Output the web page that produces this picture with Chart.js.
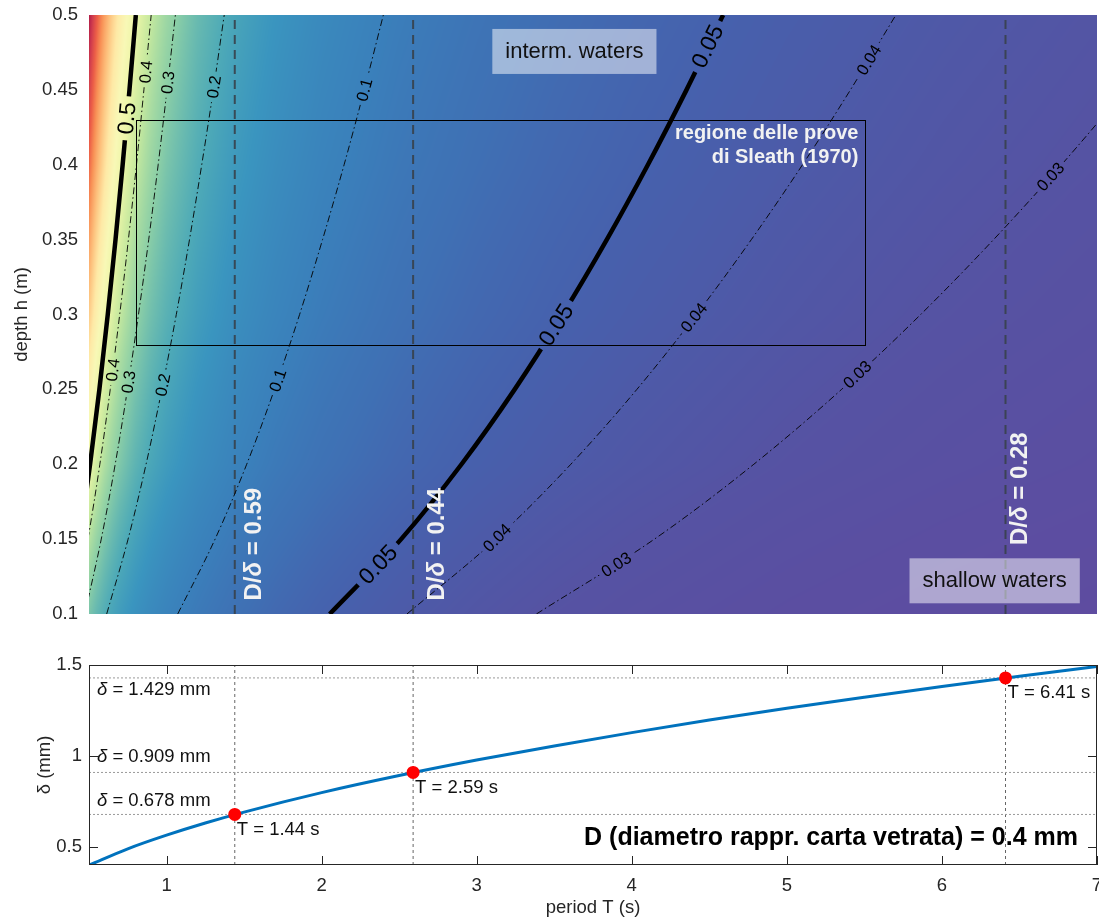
<!DOCTYPE html>
<html>
<head>
<meta charset="utf-8">
<script src="https://cdn.jsdelivr.net/npm/chart.js@4.4.1/dist/chart.umd.min.js"></script>
<style>
  html, body { margin: 0; padding: 0; background: #fff; }
  #wrap { position: relative; width: 1099px; height: 919px; }
  #depthChart { position: absolute; left: 0; top: 0; }
  #deltaChart { position: absolute; left: 0; top: 625px; }
</style>
</head>
<body>
<div id="wrap">
  <canvas id="depthChart" width="1099" height="625"></canvas>
  <canvas id="deltaChart" width="1099" height="294"></canvas>
</div>
<script>
// Relative depth h/L on a period x depth grid
const gridPeriods = [0.5, 0.55, 0.6, 0.65, 0.7, 0.8, 0.9, 1.0, 1.2, 1.4, 1.7, 2.0, 2.5, 3.0, 3.5, 4.0, 5.0, 6.0, 7.0];
const gridDepths = [0.1, 0.2, 0.3, 0.4, 0.5];
const ratioAt01 = [0.273, 0.235, 0.207, 0.185, 0.167, 0.141, 0.122, 0.108, 0.0883, 0.0747, 0.0608, 0.0513, 0.0408, 0.0339, 0.0290, 0.0254, 0.0203, 0.0169, 0.0144];
const ratioAt02 = [0.514, 0.428, 0.363, 0.315, 0.278, 0.225, 0.190, 0.165, 0.131, 0.110, 0.0881, 0.0739, 0.0584, 0.0483, 0.0413, 0.0360, 0.0287, 0.0239, 0.0205];
const ratioAt03 = [0.769, 0.636, 0.535, 0.458, 0.398, 0.312, 0.257, 0.219, 0.170, 0.139, 0.111, 0.0921, 0.0723, 0.0596, 0.0508, 0.0443, 0.0353, 0.0293, 0.0251];
const ratioAt04 = [1.025, 0.847, 0.712, 0.607, 0.524, 0.405, 0.327, 0.273, 0.207, 0.167, 0.131, 0.108, 0.0843, 0.0694, 0.0590, 0.0513, 0.0408, 0.0339, 0.0290];
const ratioAt05 = [1.281, 1.059, 0.890, 0.758, 0.654, 0.502, 0.401, 0.331, 0.244, 0.195, 0.150, 0.123, 0.0953, 0.0782, 0.0663, 0.0576, 0.0458, 0.0380, 0.0325];
const ratioRows = [ratioAt01, ratioAt02, ratioAt03, ratioAt04, ratioAt05];

// h/L contours: period (s) reached at each depth
const contourDepths = [0.1, 0.15, 0.2, 0.25, 0.3, 0.35, 0.4, 0.45, 0.5];
const contour050 = [0.359, 0.439, 0.507, 0.567, 0.621, 0.671, 0.717, 0.761, 0.802];
const contour040 = [0.403, 0.493, 0.570, 0.637, 0.698, 0.754, 0.806, 0.854, 0.901];
const contour030 = [0.473, 0.579, 0.669, 0.748, 0.819, 0.885, 0.946, 1.003, 1.057];
const contour020 = [0.614, 0.752, 0.868, 0.970, 1.063, 1.148, 1.227, 1.302, 1.372];
const contour010 = [1.072, 1.313, 1.517, 1.696, 1.858, 2.006, 2.145, 2.275, 2.398];
const contour005 = [2.052, 2.513, 2.902, 3.245, 3.554, 3.839, 4.104, 4.353, 4.589];
const contour004 = [2.550, 3.124, 3.607, 4.033, 4.417, 4.771, 5.101, 5.410, 5.703];
const contour003 = [3.385, 4.146, 4.787, 5.353, 5.863, 6.333, 6.771, 7.181, 7.570];
const contourLevels = [0.5, 0.4, 0.3, 0.2, 0.1, 0.05, 0.04, 0.03];
const contourPeriods = [contour050, contour040, contour030, contour020, contour010, contour005, contour004, contour003];
const boldLevels = [0.5, 0.05];

// inline contour labels (level, period, depth)
const labelLevels = [0.5, 0.4, 0.4, 0.3, 0.3, 0.2, 0.2, 0.1, 0.1, 0.05, 0.05, 0.05, 0.04, 0.04, 0.04, 0.03, 0.03, 0.03];
const labelPeriods = [0.744, 0.866, 0.653, 1.008, 0.755, 1.305, 0.976, 2.275, 1.717, 4.489, 3.512, 2.364, 5.529, 4.400, 3.131, 6.700, 5.454, 3.900];
const labelDepths = [0.431, 0.462, 0.263, 0.455, 0.255, 0.452, 0.253, 0.450, 0.256, 0.479, 0.293, 0.133, 0.470, 0.298, 0.151, 0.392, 0.260, 0.133];

// Sleath (1970) test region
const sleathPeriods = [0.8, 5.5];
const sleathDepths = [0.28, 0.43];

// boundary layer thickness delta (mm) against period
const curvePeriods = [0.5, 0.75, 1, 1.25, 1.5, 2, 2.5, 3, 3.5, 4, 4.5, 5, 5.5, 6, 6.5, 7];
const curveDelta = [0.399, 0.489, 0.564, 0.631, 0.691, 0.798, 0.892, 0.977, 1.055, 1.128, 1.197, 1.262, 1.323, 1.382, 1.438, 1.492];

// chosen periods with their delta and D/delta
const markPeriods = [1.44, 2.59, 6.41];
const markDelta = [0.678, 0.909, 1.429];
const markRatio = [0.59, 0.44, 0.28];
const grainSize = 0.4;

const depthTicks = [0.1, 0.15, 0.2, 0.25, 0.3, 0.35, 0.4, 0.45, 0.5];
const periodTicks = [1, 2, 3, 4, 5, 6, 7];
const deltaTicks = [0.5, 1, 1.5];

// colour scale for h/L
const fieldColors = [
  [0.014, '#5e4ca0'], [0.02, '#5b4ea1'], [0.03, '#5553a3'], [0.04, '#4d5aa8'],
  [0.05, '#4661ad'], [0.07, '#3f70b4'], [0.1, '#3a80bb'], [0.15, '#3a95bf'],
  [0.2, '#4eaab7'], [0.3, '#8ccfa6'], [0.4, '#c4e89e'], [0.5, '#eef6a8'],
  [0.58, '#f8f8b6'], [0.68, '#fee9a6'], [0.8, '#fdc07c'], [0.93, '#f89055'],
  [1.04, '#ec5f47'], [1.17, '#cf3a4d'], [1.28, '#b01c48']
];

const FONT = '"Liberation Sans", Arial, Helvetica, sans-serif';
const INK = '#262626';

const stops = fieldColors.map(([v, hex]) => [v, [1, 3, 5].map(k => parseInt(hex.substr(k, 2), 16))]);
function colorFor(v) {
  if (v <= stops[0][0]) return stops[0][1];
  for (let k = 1; k < stops.length; k++) {
    if (v <= stops[k][0]) {
      const f = (v - stops[k - 1][0]) / (stops[k][0] - stops[k - 1][0]);
      return stops[k - 1][1].map((c, n) => c + (stops[k][1][n] - c) * f);
    }
  }
  return stops[stops.length - 1][1];
}

function locate(grid, v) {
  let i = 0;
  while (i < grid.length - 2 && v > grid[i + 1]) i++;
  const f = Math.min(1, Math.max(0, (v - grid[i]) / (grid[i + 1] - grid[i])));
  return [i, f];
}

// keep the plot box where it is, whatever the tick labels overhang
function noOverhang(s) {
  s.paddingTop = 0; s.paddingBottom = 0; s.paddingLeft = 0; s.paddingRight = 0;
}

// paints h/L under the contours
const fieldPlugin = {
  id: 'field',
  beforeDatasetsDraw(chart) {
    const { ctx, chartArea: a, scales: { x, y } } = chart;
    if (!chart.$field) {
      const w = Math.round(a.right - a.left), h = Math.round(a.bottom - a.top);
      const cnv = document.createElement('canvas');
      cnv.width = w; cnv.height = h;
      const c = cnv.getContext('2d');
      const img = c.createImageData(w, h);
      const logRows = ratioRows.map(r => r.map(Math.log));
      const cols = [], rows = [];
      for (let i = 0; i < w; i++) cols.push(locate(gridPeriods, x.getValueForPixel(a.left + i + 0.5)));
      for (let j = 0; j < h; j++) rows.push(locate(gridDepths, y.getValueForPixel(a.top + j + 0.5)));
      for (let j = 0; j < h; j++) {
        const [r, v] = rows[j];
        for (let i = 0; i < w; i++) {
          const [q, u] = cols[i];
          const lo = logRows[r][q] * (1 - u) + logRows[r][q + 1] * u;
          const hi = logRows[r + 1][q] * (1 - u) + logRows[r + 1][q + 1] * u;
          const col = colorFor(Math.exp(lo * (1 - v) + hi * v));
          const p = (j * w + i) * 4;
          img.data[p] = col[0]; img.data[p + 1] = col[1]; img.data[p + 2] = col[2]; img.data[p + 3] = 255;
        }
      }
      c.putImageData(img, 0, 0);
      chart.$field = cnv;
    }
    ctx.drawImage(chart.$field, a.left, a.top);
  }
};

// contour values written along the lines, with the line cut under them
const contourLabelPlugin = {
  id: 'contourLabels',
  afterDatasetsDraw(chart) {
    const { ctx, chartArea: a, scales: { x, y } } = chart;
    labelLevels.forEach((lvl, k) => {
      const px = x.getPixelForValue(labelPeriods[k]);
      const py = y.getPixelForValue(labelDepths[k]);
      const line = contourPeriods[contourLevels.indexOf(lvl)];
      let j = 0;
      while (j < contourDepths.length - 2 && labelDepths[k] > contourDepths[j + 1]) j++;
      const ang = Math.atan2(
        y.getPixelForValue(contourDepths[j + 1]) - y.getPixelForValue(contourDepths[j]),
        x.getPixelForValue(line[j + 1]) - x.getPixelForValue(line[j]));
      const bold = boldLevels.includes(lvl);
      const size = bold ? 23 : 16.5;
      const txt = String(lvl);
      ctx.save();
      ctx.font = `${size}px ${FONT}`;
      const w = ctx.measureText(txt).width + (bold ? 12 : 8);
      const hh = size * 0.9;
      ctx.translate(px, py);
      ctx.rotate(ang);
      ctx.beginPath();
      ctx.rect(-w / 2, -hh / 2, w, hh);
      ctx.clip();
      ctx.rotate(-ang);
      ctx.translate(-px, -py);
      ctx.drawImage(chart.$field, a.left, a.top);
      ctx.restore();

      ctx.save();
      ctx.translate(px, py);
      ctx.rotate(ang);
      ctx.font = `${size}px ${FONT}`;
      ctx.fillStyle = '#000';
      ctx.textAlign = 'center';
      ctx.textBaseline = 'middle';
      ctx.fillText(txt, 0, 1);
      ctx.restore();
    });
  }
};

function drawParts(ctx, parts, x, y) {
  let cx = x;
  parts.forEach(([text, font]) => {
    ctx.font = font;
    ctx.fillText(text, cx, y);
    cx += ctx.measureText(text).width;
  });
  return cx - x;
}

// D/delta captions beside the dashed periods
const ratioShift = [20, 24, 15];
const ratioStartDepth = [0.109, 0.109, 0.146];
// water regime boxes
const regimeText = ['interm. waters', 'shallow waters'];
const regimePeriod = [3.63, 6.34];
const regimeDepth = [0.476, 0.1225];

const overlayPlugin = {
  id: 'overlay',
  afterDatasetsDraw(chart) {
    const { ctx, scales: { x, y } } = chart;
    // Sleath region
    const x0 = x.getPixelForValue(sleathPeriods[0]), x1 = x.getPixelForValue(sleathPeriods[1]);
    const y0 = y.getPixelForValue(sleathDepths[1]), y1 = y.getPixelForValue(sleathDepths[0]);
    ctx.save();
    ctx.strokeStyle = '#000';
    ctx.lineWidth = 1;
    ctx.strokeRect(Math.round(x0) + 0.5, Math.round(y0) + 0.5, Math.round(x1 - x0), Math.round(y1 - y0));
    ctx.fillStyle = '#f2f2f2';
    ctx.font = `bold 20px ${FONT}`;
    ctx.textAlign = 'right';
    ctx.textBaseline = 'middle';
    ctx.fillText('regione delle prove', x1 - 6, y0 + 14);
    ctx.fillText('di Sleath (1970)', x1 - 6, y0 + 38);

    // D/delta labels
    ctx.textAlign = 'left';
    markPeriods.forEach((T, i) => {
      const px = x.getPixelForValue(T) + ratioShift[i];
      const py = y.getPixelForValue(ratioStartDepth[i]);
      ctx.save();
      ctx.translate(px, py);
      ctx.rotate(-Math.PI / 2);
      ctx.fillStyle = '#f2f2f2';
      drawParts(ctx, [['D/', `bold 24px ${FONT}`], ['δ', `italic bold 24px ${FONT}`],
        [' = ' + markRatio[i].toFixed(2), `bold 24px ${FONT}`]], 0, 0);
      ctx.restore();
    });

    // regime boxes
    ctx.font = `22px ${FONT}`;
    ctx.textAlign = 'center';
    regimeText.forEach((t, i) => {
      const cx = x.getPixelForValue(regimePeriod[i]);
      const cy = y.getPixelForValue(regimeDepth[i]);
      const w = ctx.measureText(t).width + 26;
      ctx.fillStyle = 'rgba(255,255,255,0.5)';
      ctx.fillRect(cx - w / 2, cy - 22, w, 45);
      ctx.fillStyle = '#111';
      ctx.fillText(t, cx, cy + 1);
    });
    ctx.restore();
  }
};

const contourSets = contourLevels.map((lvl, n) => ({
  data: contourDepths.map((h, i) => ({ x: contourPeriods[n][i], y: h })),
  showLine: true,
  borderColor: '#000',
  borderWidth: boldLevels.includes(lvl) ? 4.5 : 0.9,
  borderDash: boldLevels.includes(lvl) ? [] : [7, 3, 1.5, 3],
  pointRadius: 0,
  cubicInterpolationMode: 'monotone',
  clip: 0
}));
const periodLines = markPeriods.map(T => ({
  data: [{ x: T, y: depthTicks[0] }, { x: T, y: depthTicks[depthTicks.length - 1] }],
  showLine: true,
  borderColor: 'rgba(55,65,75,0.9)',
  borderWidth: 2,
  borderDash: [9, 6],
  pointRadius: 0,
  clip: 0
}));

new Chart(document.getElementById('depthChart'), {
  type: 'scatter',
  data: { datasets: [...contourSets, ...periodLines] },
  options: {
    responsive: false,
    animation: false,
    devicePixelRatio: 1,
    layout: { autoPadding: false, padding: { top: 15, right: 2, bottom: 11, left: 0 } },
    plugins: { legend: { display: false }, tooltip: { enabled: false } },
    scales: {
      x: { type: 'linear', min: 0.5, max: 7, display: false, afterFit: noOverhang },
      y: {
        type: 'linear', min: 0.1, max: 0.5,
        afterBuildTicks: s => { s.ticks = depthTicks.map(v => ({ value: v })); },
        afterFit: s => { s.width = 89; noOverhang(s); },
        grid: { display: false, drawTicks: false },
        border: { display: false },
        ticks: { padding: 11, color: INK, font: { family: FONT, size: 18.5 }, callback: v => String(v) },
        title: { display: true, text: 'depth h (m)', color: INK, font: { family: FONT, size: 18.5 }, padding: { top: 11, bottom: 0 } }
      }
    }
  },
  plugins: [fieldPlugin, contourLabelPlugin, overlayPlugin]
});

// frame, inward ticks and captions of the delta panel
const deltaLabelShift = [-14, -16, 12];
const framePlugin = {
  id: 'frame',
  afterDatasetsDraw(chart) {
    const { ctx, chartArea: a, scales: { x, y } } = chart;
    ctx.save();
    ctx.strokeStyle = INK;
    ctx.lineWidth = 1;
    ctx.strokeRect(Math.round(a.left) + 0.5, Math.round(a.top) + 0.5, Math.round(a.right - a.left) - 1, Math.round(a.bottom - a.top) - 1);
    ctx.beginPath();
    periodTicks.forEach(v => {
      const px = Math.round(x.getPixelForValue(v)) + 0.5;
      ctx.moveTo(px, a.bottom); ctx.lineTo(px, a.bottom - 9);
      ctx.moveTo(px, a.top); ctx.lineTo(px, a.top + 9);
    });
    deltaTicks.forEach(v => {
      const py = Math.round(y.getPixelForValue(v)) + 0.5;
      ctx.moveTo(a.left, py); ctx.lineTo(a.left + 9, py);
      ctx.moveTo(a.right, py); ctx.lineTo(a.right - 9, py);
    });
    ctx.stroke();

    ctx.fillStyle = '#111';
    ctx.textBaseline = 'middle';
    ctx.textAlign = 'left';
    markPeriods.forEach((T, i) => {
      const px = x.getPixelForValue(T), py = y.getPixelForValue(markDelta[i]);
      ctx.font = `18.5px ${FONT}`;
      ctx.fillText('T = ' + T.toFixed(2) + ' s', px + 2, py + 15);
      drawParts(ctx, [['δ', `italic 18.5px ${FONT}`], [' = ' + markDelta[i].toFixed(3) + ' mm', `18.5px ${FONT}`]],
        a.left + 8, py + deltaLabelShift[i]);
    });

    ctx.font = `bold 25px ${FONT}`;
    ctx.textAlign = 'right';
    ctx.fillStyle = '#000';
    ctx.fillText('D (diametro rappr. carta vetrata) = ' + grainSize + ' mm', a.right - 19, a.bottom - 27);
    ctx.restore();
  }
};

new Chart(document.getElementById('deltaChart'), {
  type: 'scatter',
  data: {
    datasets: [
      {
        data: markPeriods.map((T, i) => ({ x: T, y: markDelta[i] })),
        pointRadius: 6.5, pointBackgroundColor: '#ff0000', pointBorderWidth: 0, showLine: false
      },
      {
        data: curvePeriods.map((T, i) => ({ x: T, y: curveDelta[i] })),
        showLine: true, borderColor: '#0072bd', borderWidth: 3, pointRadius: 0,
        cubicInterpolationMode: 'monotone'
      },
      ...markDelta.map(d => ({
        data: [{ x: 0.5, y: d }, { x: 7, y: d }],
        showLine: true, borderColor: '#9a9a9a', borderWidth: 1, borderDash: [2, 2], pointRadius: 0
      })),
      ...markPeriods.map(T => ({
        data: [{ x: T, y: 0.4 }, { x: T, y: 1.5 }],
        showLine: true, borderColor: '#666', borderWidth: 1, borderDash: [3, 3], pointRadius: 0
      }))
    ]
  },
  options: {
    responsive: false,
    animation: false,
    devicePixelRatio: 1,
    layout: { autoPadding: false, padding: { top: 40, right: 2, bottom: 0, left: 0 } },
    plugins: { legend: { display: false }, tooltip: { enabled: false } },
    scales: {
      x: {
        type: 'linear', min: 0.5, max: 7,
        afterBuildTicks: s => { s.ticks = periodTicks.map(v => ({ value: v })); },
        afterFit: s => { s.height = 54; noOverhang(s); },
        grid: { display: false, drawTicks: false },
        border: { display: false },
        ticks: { padding: 10, color: INK, font: { family: FONT, size: 18.5 }, callback: v => String(v) },
        title: { display: true, text: 'period T (s)', color: INK, font: { family: FONT, size: 18.5 }, padding: { top: 0, bottom: 0 } }
      },
      y: {
        type: 'linear', min: 0.4, max: 1.5,
        afterBuildTicks: s => { s.ticks = deltaTicks.map(v => ({ value: v })); },
        afterFit: s => { s.width = 89; noOverhang(s); },
        grid: { display: false, drawTicks: false },
        border: { display: false },
        ticks: { padding: 7, color: INK, font: { family: FONT, size: 18.5 }, callback: v => String(v) },
        title: { display: true, text: 'δ (mm)', color: INK, font: { family: FONT, size: 18.5 }, padding: { top: 34, bottom: 0 } }
      }
    }
  },
  plugins: [framePlugin]
});
</script>
</body>
</html>
